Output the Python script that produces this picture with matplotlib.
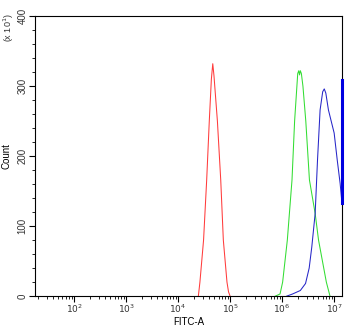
import numpy as np
import matplotlib
matplotlib.use("Agg")
import matplotlib.pyplot as plt
from matplotlib.ticker import FixedLocator, LogLocator, NullFormatter

plt.rcParams['font.family'] = ['Liberation Sans', 'DejaVu Sans']

# histogram outlines: log10(FITC-A) and count (x10)
red_logx = [4.39, 4.42, 4.49, 4.55, 4.60, 4.64, 4.667, 4.69, 4.756, 4.82, 4.87, 4.94, 4.97, 5.00]
red_count = [0, 20, 80, 166, 250, 310, 332, 315, 250, 166, 80, 20, 6, 0]

green_logx = [5.87, 5.96, 6.01, 6.10, 6.19, 6.24, 6.30, 6.32, 6.335, 6.35, 6.37, 6.40, 6.455, 6.525, 6.635, 6.70, 6.85, 6.92]
green_count = [0, 3, 20, 80, 166, 250, 318, 322, 316, 322, 318, 300, 250, 166, 118, 80, 20, 0]

blue_logx = [6.09, 6.20, 6.35, 6.45, 6.52, 6.57, 6.635, 6.68, 6.73, 6.78, 6.81, 6.84, 6.89, 7.00, 7.06, 7.115, 7.15]
blue_count = [0, 3, 8, 18, 40, 70, 118, 194, 266, 292, 296, 290, 266, 233, 194, 161, 133]
blue_edge = [133, 309]

x_min, x_max = 10 ** 1.25, 10 ** 7.15

fig = plt.figure(figsize=(3.5, 3.29), dpi=100)
ax = fig.add_axes([0.1, 0.1, 0.877, 0.851])

ax.plot(10 ** np.array(red_logx), red_count, color="#ff3b3b", lw=0.75)
ax.plot(10 ** np.array(green_logx), green_count, color="#33dd33", lw=0.75)
ax.plot(10 ** np.array(blue_logx), blue_count, color="#2626c8", lw=0.75)
ax.plot([x_max, x_max], blue_edge, color="#0000e0", lw=2.2, clip_on=False, zorder=5)

ax.set_xscale("log")
ax.set_xlim(x_min, x_max)
ax.set_ylim(0, 400)

ax.xaxis.set_major_locator(FixedLocator([1e2, 1e3, 1e4, 1e5, 1e6, 1e7]))
ax.xaxis.set_minor_locator(LogLocator(base=10, subs=np.arange(2, 10)))
ax.xaxis.set_minor_formatter(NullFormatter())
ax.set_xticklabels([r"$10^{2}$", r"$10^{3}$", r"$10^{4}$", r"$10^{5}$", r"$10^{6}$", r"$10^{7}$"])

ax.set_yticks([0, 100, 200, 300, 400])
ax.set_yticks(np.arange(0, 401, 20), minor=True)
ax.set_yticklabels(["0", "100", "200", "300", "400"], rotation=90, va="center")

ax.tick_params(which="major", length=4, width=0.8, labelsize=7, labelcolor="#333333", pad=1.5)
ax.tick_params(axis="x", which="major", labelsize=6.5, pad=1)
ax.tick_params(which="minor", length=2.5, width=0.6)

for s in ax.spines.values():
    s.set_linewidth(0.8)

ax.set_xlabel("FITC-A", fontsize=7)
ax.xaxis.set_label_coords(0.5, -0.075)
ax.set_ylabel("Count", fontsize=7, labelpad=4)
fig.text(0.026, 0.96, r"(x 10$^{1}$)", rotation=90, fontsize=6.5, color="#333333", ha="center", va="top")

fig.savefig("out.png", dpi=100)
